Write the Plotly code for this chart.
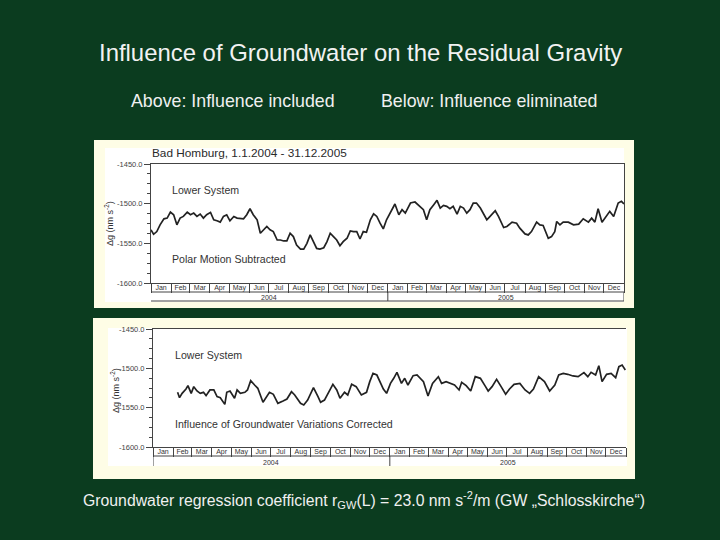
import pandas as pd
import plotly.graph_objects as go

# Values (nm/s^2), days counted from 1.1.2004
days_top = [0, 4, 9, 14, 20, 25, 30, 35, 40, 45, 50, 56, 61, 66, 71, 76, 81, 86, 92, 97, 102, 107, 112, 117, 122,
            128, 133, 138, 143, 148, 153, 158, 164, 169, 174, 179, 184, 189, 195, 200, 205, 210, 215, 220, 225,
            231, 236, 241, 246, 251, 256, 261, 267, 272, 277, 282, 287, 292, 297, 303, 308, 313, 318, 323, 328,
            333, 339, 344, 349, 354, 359, 364, 370, 377, 383, 388, 393, 401, 408, 416, 421, 426, 431, 437, 442,
            447, 452, 457, 462, 467, 473, 478, 483, 488, 493, 498, 503, 509, 514, 519, 524, 532, 537, 545, 550,
            558, 565, 570, 578, 583, 588, 596, 601, 606, 614, 619, 624, 627, 632, 637, 645, 653, 661, 668, 676,
            681, 686, 691, 697, 704, 709, 715, 722, 727, 731]
values_top = [-1533.0, -1538.6, -1535.2, -1526.7, -1519.1, -1518.2, -1510.6, -1514.0, -1526.7, -1518.2, -1516.1,
              -1510.6, -1514.0, -1511.9, -1516.1, -1513.1, -1518.2, -1514.0, -1511.0, -1520.3, -1521.6, -1523.3,
              -1516.1, -1514.0, -1521.6, -1516.1, -1518.2, -1519.1, -1519.1, -1514.0, -1506.4, -1514.0, -1520.3,
              -1537.3, -1533.0, -1528.8, -1533.0, -1535.2, -1545.8, -1545.8, -1547.0, -1547.0, -1537.3, -1541.5,
              -1552.1, -1557.2, -1557.2, -1550.0, -1539.4, -1547.9, -1556.4, -1557.2, -1555.5, -1547.9, -1537.3,
              -1541.5, -1545.8, -1553.0, -1547.9, -1543.6, -1534.3, -1535.2, -1535.2, -1544.5, -1535.2, -1536.0,
              -1520.3, -1512.7, -1516.1, -1524.6, -1531.8, -1520.3, -1511.9, -1500.4, -1514.0, -1507.6, -1511.9,
              -1499.2, -1497.9, -1503.4, -1507.6, -1520.3, -1507.6, -1501.3, -1495.8, -1505.5, -1502.1, -1503.4,
              -1506.4, -1503.4, -1513.1, -1503.4, -1505.5, -1511.9, -1507.6, -1499.2, -1499.2, -1505.5, -1514.0,
              -1520.3, -1516.1, -1508.9, -1516.1, -1530.1, -1528.8, -1523.3, -1524.6, -1530.9, -1538.1, -1539.4,
              -1535.2, -1523.3, -1526.7, -1527.5, -1543.6, -1541.5, -1535.2, -1522.5, -1526.7, -1523.3, -1523.3,
              -1526.7, -1525.8, -1519.1, -1523.3, -1518.2, -1523.3, -1506.4, -1523.3, -1516.1, -1509.7, -1516.1,
              -1499.2, -1497.0, -1500.4]

days_bottom = [38, 41, 45, 51, 54, 59, 63, 68, 73, 78, 82, 88, 94, 99, 104, 111, 114, 119, 126, 130, 135, 142, 146,
               151, 157, 162, 170, 175, 180, 186, 193, 201, 207, 214, 219, 228, 233, 239, 248, 255, 259, 265, 271,
               278, 284, 289, 296, 301, 307, 314, 322, 330, 335, 340, 346, 352, 356, 361, 367, 372, 377, 384, 389,
               394, 402, 408, 418, 425, 432, 441, 446, 453, 461, 466, 473, 477, 484, 491, 498, 506, 513, 518, 524,
               531, 538, 545, 551, 558, 567, 575, 582, 588, 596, 605, 613, 621, 627, 634, 641, 649, 657, 666, 672,
               677, 684, 689, 694, 701, 708, 715, 720, 725, 730]
values_bottom = [-1530.5, -1537.3, -1531.8, -1526.3, -1522.0, -1531.8, -1523.3, -1528.8, -1531.8, -1530.5, -1534.7,
                 -1527.5, -1527.5, -1536.0, -1537.3, -1545.8, -1530.5, -1528.8, -1538.1, -1527.5, -1531.8, -1530.5,
                 -1527.5, -1515.7, -1521.2, -1525.4, -1543.2, -1536.0, -1530.5, -1533.0, -1544.5, -1541.5, -1539.0,
                 -1529.7, -1533.9, -1544.5, -1546.6, -1540.3, -1524.6, -1536.0, -1543.2, -1540.3, -1530.5, -1520.3,
                 -1527.5, -1538.1, -1530.5, -1533.9, -1520.3, -1523.3, -1533.9, -1530.5, -1516.9, -1506.4, -1508.5,
                 -1519.1, -1526.3, -1531.8, -1519.1, -1512.7, -1505.1, -1519.1, -1512.7, -1521.2, -1509.3, -1508.5,
                 -1516.9, -1535.2, -1519.1, -1510.6, -1519.1, -1516.9, -1519.1, -1521.2, -1527.5, -1517.8, -1522.0,
                 -1528.8, -1510.6, -1512.7, -1522.0, -1528.8, -1523.3, -1514.0, -1523.3, -1533.0, -1526.3, -1520.3,
                 -1519.1, -1527.5, -1531.8, -1526.3, -1510.6, -1516.9, -1528.8, -1521.2, -1508.5, -1506.4, -1507.6,
                 -1509.7, -1510.6, -1505.5, -1510.6, -1505.1, -1508.5, -1496.6, -1516.9, -1507.6, -1506.4, -1511.9,
                 -1497.9, -1495.8, -1502.1]

y_ticks = [-1600, -1550, -1500, -1450]
y_ticktext = ["-1600.0", "-1550.0", "-1500.0", "-1450.0"]
years = ["2004", "2005"]
start = pd.Timestamp("2004-01-01")
mid_years = ["2004-07-02", "2005-07-02"]
year_break = "2005-01-01"
x_end = "2006-01-01"

BG = "#0b3c1f"
CREAM = "#fefde6"
INK = "#222222"
AXIS = "#444444"
FONT = "Liberation Sans, Arial, sans-serif"


def fx(px):
    return px / 720


def fy(px):
    return 1 - px / 540


fig = go.Figure()

# one chart picture per panel: outer frame, plot box, rows under the plot
panels = [
    dict(n="", days=days_top, vals=values_top, frame=(94, 140, 634, 308), white=(105, 148, 624, 302),
         plot=(151, 164, 624, 283), month_y=292, year_y=301, year_text=297, ytitle=(109, 223), closed=True),
    dict(n="2", days=days_bottom, vals=values_bottom, frame=(93, 318, 635, 479), white=(108, 328, 627, 466),
         plot=(153, 329, 626, 447), month_y=456, year_y=466, year_text=462, ytitle=(115, 390), closed=False),
]

shapes = []
annotations = []
for p in panels:
    dates = [start + pd.Timedelta(days=d) for d in p["days"]]
    xname = "x" + p["n"]
    yname = "y" + p["n"]
    fig.add_trace(go.Scatter(x=dates, y=p["vals"], mode="lines", xaxis=xname, yaxis=yname, showlegend=False,
                             line=dict(color=INK, width=1.7)))
    x0, y0, x1, y1 = p["plot"]
    fig.layout["xaxis" + p["n"]] = dict(
        domain=[fx(x0), fx(x1)], anchor=yname, type="date", range=[start, x_end], dtick="M1",
        tick0="2004-01-01", tickformat="%b", ticklabelmode="period", ticks="outside", ticklen=p["month_y"] - y1,
        tickcolor=AXIS, tickwidth=1, ticklabelstandoff=-11, showgrid=False, zeroline=False, automargin=False,
        showline=True, linecolor=AXIS, linewidth=1, mirror=True, tickfont=dict(family=FONT, size=7, color="#333333"))
    fig.layout["yaxis" + p["n"]] = dict(
        domain=[fy(y1), fy(y0)], anchor=xname, range=[-1600, -1450], tickvals=y_ticks, ticktext=y_ticktext,
        ticks="outside", ticklen=6, tickcolor=AXIS, showgrid=False, zeroline=False, showline=True, linecolor=AXIS,
        linewidth=1, mirror=p["closed"], automargin=False, tickfont=dict(family=FONT, size=7.5, color="#444444"),
        minor=dict(dtick=12.5, ticks="outside", ticklen=3, tickcolor=AXIS, showgrid=False))

    # cream card and white picture behind the plot
    shapes.append(dict(type="rect", xref="paper", yref="paper", layer="below", x0=fx(p["frame"][0]), x1=fx(p["frame"][2]),
                       y0=fy(p["frame"][3]), y1=fy(p["frame"][1]), fillcolor=CREAM, line=dict(width=0)))
    shapes.append(dict(type="rect", xref="paper", yref="paper", layer="below", x0=fx(p["white"][0]), x1=fx(p["white"][2]),
                       y0=fy(p["white"][3]), y1=fy(p["white"][1]), fillcolor="white", line=dict(width=0)))
    # month row bottom, year row bottom, year divider and edges
    xref = xname
    row_lines = [p["month_y"], p["year_y"]] if p["closed"] else [p["month_y"]]
    for yy in row_lines:
        shapes.append(dict(type="line", xref=xref, yref="paper", x0=start, x1=x_end, y0=fy(yy), y1=fy(yy),
                           line=dict(color=AXIS, width=1)))
    edges = [year_break, x_end] if p["closed"] else [start, year_break]
    for xx in edges:
        shapes.append(dict(type="line", xref=xref, yref="paper", x0=xx, x1=xx, y0=fy(p["month_y"]), y1=fy(p["year_y"]),
                           line=dict(color=AXIS, width=1)))
    for label, xx in zip(years, mid_years):
        annotations.append(dict(xref=xref, yref="paper", x=xx, y=fy(p["year_text"]), text=label, showarrow=False,
                                xanchor="center", yanchor="middle", font=dict(family=FONT, size=7, color="#333333")))
    annotations.append(dict(xref="paper", yref="paper", x=fx(p["ytitle"][0]), y=fy(p["ytitle"][1]),
                            text="Δg (nm s<sup>-2</sup>)", textangle=-90, showarrow=False,
                            xanchor="center", yanchor="middle", font=dict(family=FONT, size=9, color="#333333")))


def add_text(x, y, text, size, color=INK, anchor="left"):
    annotations.append(dict(xref="paper", yref="paper", x=fx(x), y=fy(y), text=text, showarrow=False, xanchor=anchor,
                            yanchor="middle", font=dict(family=FONT, size=size, color=color)))


# slide texts
add_text(360, 53, "Influence of Groundwater on the Residual Gravity", 23.9, "#f2f2f2", "center")
add_text(129, 101, "Above: Influence included", 17.8, "#f0f0f0")
add_text(379, 101, "Below: Influence eliminated", 17.8, "#f0f0f0")
add_text(81, 500, "Groundwater regression coefficient r<sub>GW</sub>(L) = 23.0 nm s<sup>-2</sup>/m (GW „Schlosskirche“)",
         15.8, "#f0f0f0")

# texts inside the pictures
add_text(150, 153, "Bad Homburg, 1.1.2004 - 31.12.2005", 11.8, "#2a2a2a")
add_text(170, 190, "Lower System", 10.6, "#333333")
add_text(170, 259, "Polar Motion Subtracted", 10.6, "#333333")
add_text(173, 355, "Lower System", 10.6, "#333333")
add_text(173, 424, "Influence of Groundwater Variations Corrected", 10.6, "#333333")

fig.update_layout(width=720, height=540, margin=dict(l=0, r=0, t=0, b=0, pad=0, autoexpand=False), paper_bgcolor=BG,
                  plot_bgcolor="white", shapes=shapes, annotations=annotations, showlegend=False)
fig.write_html("out.html", config=dict(displayModeBar=False),
               post_script="document.body.style.margin='0';document.body.style.background='" + BG + "';")
